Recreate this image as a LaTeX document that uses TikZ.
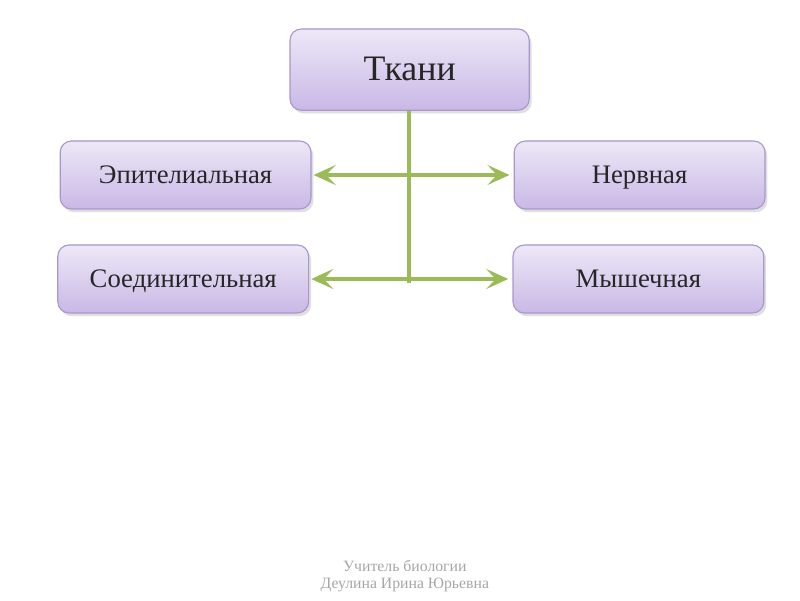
\documentclass[tikz,border=0pt]{standalone}
\usepackage{fontspec}
\setmainfont{Liberation Serif}
\usepackage{xcolor}
\usepackage{tikz}
\usetikzlibrary{arrows.meta,positioning,calc,shadows}

\definecolor{lineGreen}{HTML}{9BBB59}
\definecolor{boxTop}{HTML}{EDE8F7}
\definecolor{boxBot}{HTML}{C9B8E6}
\definecolor{boxEdge}{HTML}{A996CC}
\definecolor{footGray}{HTML}{A6A6A6}

\begin{document}
\begin{tikzpicture}[
  box/.style={draw=boxEdge, rounded corners=8pt, line width=0.8pt,
    top color=boxTop, bottom color=boxBot, text=black!85,
    drop shadow={opacity=0.25, shadow xshift=0.6mm, shadow yshift=-0.8mm},
    minimum width=6.27cm, minimum height=1.7cm, text height=12.5pt, text depth=0pt,
    font=\fontsize{19}{22}\selectfont},
  arr/.style={{Stealth[length=5.5mm,width=5mm,inset=2.4mm]}-{Stealth[length=5.5mm,width=5mm,inset=2.4mm]},
    line width=2.6pt, draw=lineGreen, shorten <=1.5pt, shorten >=3pt},
  stem/.style={line width=2.6pt, draw=lineGreen},
  foot/.style={text=footGray, font=\fontsize{11.2}{12.6}\selectfont, align=center}
]
  \useasboundingbox (0,0) rectangle (20,15);

  \node[box, minimum width=5.98cm, minimum height=2.03cm, text height=15pt,
    font=\fontsize{25.5}{28}\selectfont] (tkani) at (10.24,13.26) {Ткани};
  \node[box] (epit) at (4.64,10.625) {Эпителиальная};
  \node[box] (nerv) at (15.99,10.625) {Нервная};
  \node[box] (soed) at (4.58,8.025) {Соединительная};
  \node[box] (mysh) at (15.96,8.025) {Мышечная};

  % stem from the top box down to the lower row
  \coordinate (jtop) at (tkani.south -| 10.225,0);
  \coordinate (jend) at (10.225,7.93);
  \draw[stem] (jtop) -- (jend);

  \draw[arr] (epit.east) -- (nerv.west);
  \draw[arr] (soed.east) -- (mysh.west);

  \node[foot] (author) at (10.12,0.6) {Учитель биологии\\Деулина Ирина Юрьевна};
\end{tikzpicture}
\end{document}
